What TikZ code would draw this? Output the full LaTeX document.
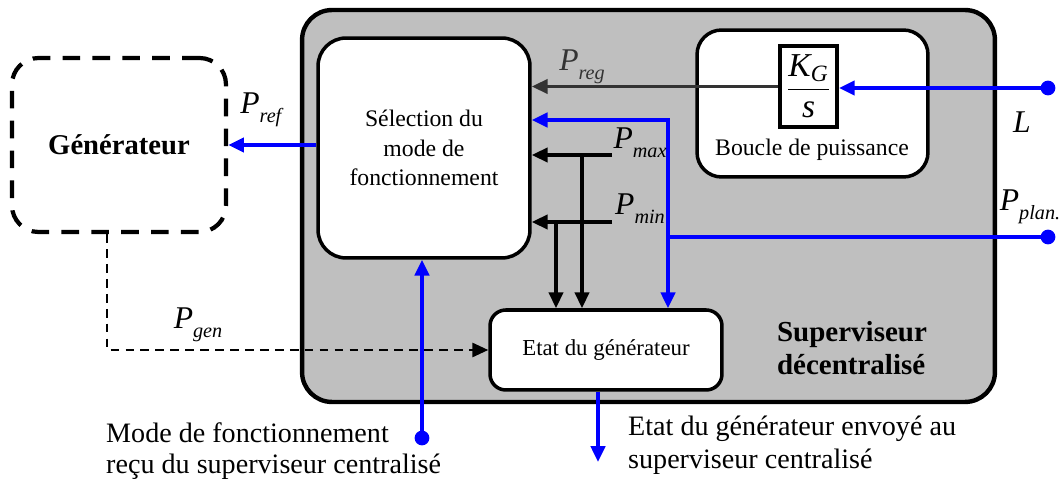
\documentclass[tikz,border=0pt]{standalone}
\usepackage{amsmath}
\usepackage{fontspec}
\setmainfont{Liberation Serif}
\usetikzlibrary{arrows.meta}

\newcommand{\sig}[2]{\textit{#1}\raisebox{-0.6ex}{\fontsize{11.5}{11}\selectfont\textit{#2}}}

\begin{document}
\begin{tikzpicture}[x=0.02cm,y=-0.02cm,
    box/.style={draw, line width=2pt, fill=white, rounded corners=#1, inner sep=0pt},
    box/.default=16pt,
    link/.style={line width=2pt},
    bluelink/.style={blue, line width=2.2pt},
    tip/.style={-{Triangle[length=9pt,width=8pt]}},
    lbl/.style={font=\fontsize{18}{18}\selectfont, inner sep=0pt}]
    \useasboundingbox (0,0) rectangle (1062,482);

    % Superviseur
    \node[box=17pt, line width=2.5pt, fill=black!25, minimum width=13.86cm, minimum height=7.84cm] (sup) at (648.5,206) {};
    \node[font=\fontsize{16.5}{19}\selectfont\bfseries, align=left] (suptxt) at (852,348) {Superviseur\\d\'ecentralis\'e};

    % Generateur
    \node[draw, line width=2.4pt, dash pattern=on 10pt off 7pt, rounded corners=15pt,
          minimum width=4.28cm, minimum height=3.48cm] (gen) at (119,145) {};
    \node[font=\fontsize{16.3}{19}\selectfont\bfseries] (gentxt) at (119,145) {G\'en\'erateur};

    % Blocs internes
    \node[box, minimum width=4.24cm, minimum height=4.4cm, align=center,
          font=\fontsize{13.5}{17}\selectfont] (sel) at (424,148) {S\'election du\\mode de\\fonctionnement};
    \node[box=14pt, minimum width=4.62cm, minimum height=2.94cm] (boucle) at (812.5,103.5) {};
    \node[font=\fontsize{13.5}{16}\selectfont] (bouctxt) at (812,150) {Boucle de puissance};
    \node[draw, line width=2.2pt, fill=white, inner sep=0pt, minimum width=1.14cm, minimum height=1.62cm] (kg) at (808.5,86.5)
        {\fontsize{19}{22}\selectfont$\dfrac{\textit{K}_{\textit{G}}}{\textit{s}}$};
    \node[box=9pt, minimum width=4.64cm, minimum height=1.6cm, font=\fontsize{13}{16}\selectfont] (etat) at (606,350) {Etat du g\'en\'erateur};

    % P_ref
    \draw[bluelink, tip] (sel.west |- gen.east) -- (gen.east);
    \node[lbl] (pref) at (262,110) {\sig{P}{ref}};

    % P_reg
    \draw[link, black!80, tip] (kg.west) -- (kg.west -| sel.east);
    \node[lbl, black!80] (preg) at (582,67) {\sig{P}{reg}};

    % L
    \coordinate (lin) at (1048,88);
    \fill[blue] (lin) circle (4.2pt);
    \draw[bluelink, tip] (lin) -- (lin -| kg.east);
    \node[lbl] (ltxt) at (1022,122) {\textit{L}};

    % P_plan.
    \coordinate (plan) at (1048,237);
    \coordinate (split) at (668,237);
    \fill[blue] (plan) circle (4.2pt);
    \draw[bluelink] (plan) -- (split);
    \draw[bluelink, tip] (split) |- ([yshift=0.56cm]sel.east);
    \draw[bluelink, tip] (split) -- (split |- etat.north);
    \node[lbl] (pplan) at (1030,207) {\sig{P}{plan.}};

    % P_max et P_min
    \coordinate (pmax) at (612,155);
    \coordinate (pmin) at (612,222);
    \coordinate (vmax) at (582,155);
    \coordinate (vmin) at (556,222);
    \draw[link, tip] (pmax) -- (pmax -| sel.east);
    \draw[link, tip] (pmin) -- (pmin -| sel.east);
    \draw[link, tip] (vmax) -- (vmax |- etat.north);
    \draw[link, tip] (vmin) -- (vmin |- etat.north);
    \node[lbl] (pmaxtxt) at (640,143) {\sig{P}{max}};
    \node[lbl] (pmintxt) at (640,209) {\sig{P}{min}};

    % P_gen
    \draw[line width=1.3pt, dash pattern=on 5pt off 3.5pt, tip] ([xshift=-0.24cm]gen.south) |- (etat.west);
    \node[lbl] (pgen) at (198,325) {\sig{P}{gen}};

    % Mode de fonctionnement
    \coordinate (mode) at (422,438);
    \fill[blue] (mode) circle (4.2pt);
    \draw[bluelink, tip] (mode) -- (mode |- sel.south);
    \node[anchor=west, align=left, font=\fontsize{16}{17.5}\selectfont] (modetxt) at (100,451)
        {Mode de fonctionnement\\re\c{c}u du superviseur centralis\'e};

    % Etat envoye
    \coordinate (out) at (598,462);
    \draw[bluelink, tip] (out |- etat.south) -- (out);
    \node[anchor=west, align=left, font=\fontsize{16}{19}\selectfont] (outtxt) at (622,445)
        {Etat du g\'en\'erateur envoy\'e au\\superviseur centralis\'e};
\end{tikzpicture}
\end{document}
